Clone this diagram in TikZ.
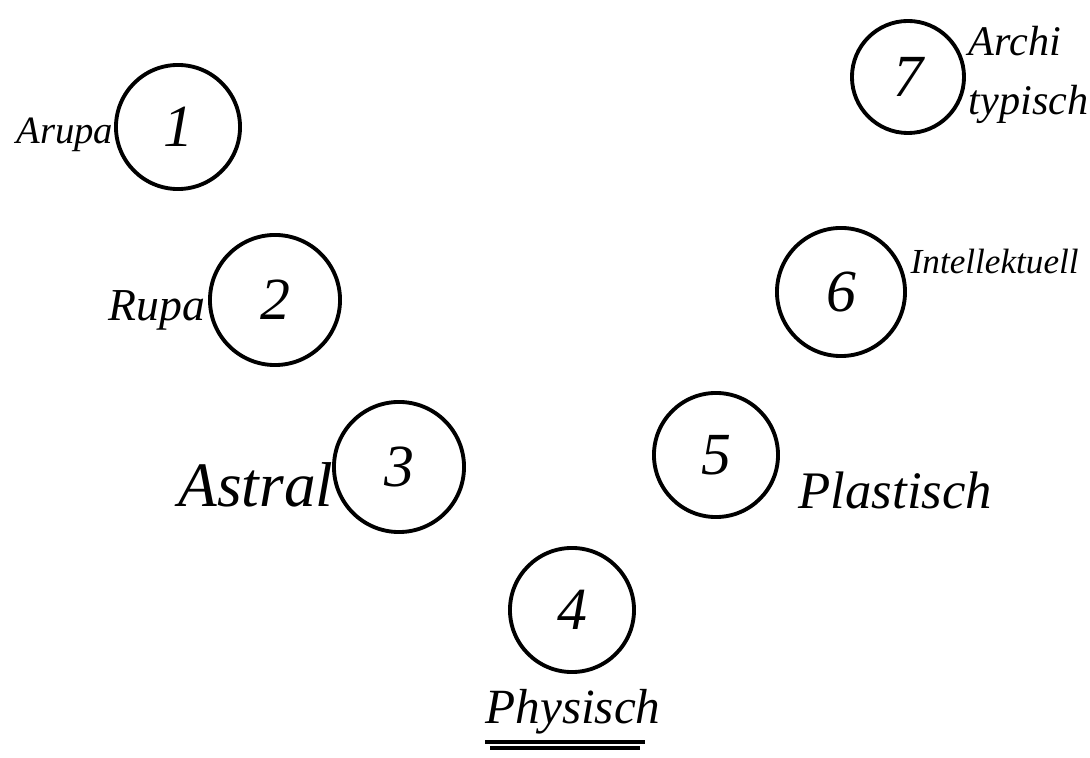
\documentclass[tikz,border=0pt]{standalone}
\usepackage{fontspec}
\setmainfont{Liberation Serif}
\begin{document}
\begin{tikzpicture}[x=0.01cm,y=-0.01cm,
  ring/.style={circle,draw=black,line width=1.1pt,inner sep=0pt},
  num/.style={font=\fontsize{17}{17}\selectfont\itshape},
  lab/.style={font=\fontsize{16}{18}\selectfont\itshape,inner sep=0pt},
  smalllab/.style={font=\fontsize{11}{12}\selectfont\itshape,inner sep=0pt}]
\useasboundingbox (0,0) rectangle (1090,758);
\node[ring,minimum size=1.24cm] (c1) at (178,127) {};
\node[ring,minimum size=1.30cm] (c2) at (275,300) {};
\node[ring,minimum size=1.30cm] (c3) at (399,467) {};
\node[ring,minimum size=1.24cm] (c4) at (572,610) {};
\node[ring,minimum size=1.24cm] (c5) at (716,455) {};
\node[ring,minimum size=1.28cm] (c6) at (841,292) {};
\node[ring,minimum size=1.12cm] (c7) at (908,77) {};
\node[num] (n1) at (c1) {1};
\node[num] (n2) at (c2) {2};
\node[num] (n3) at (c3) {3};
\node[num] (n4) at (c4) {4};
\node[num] (n5) at (c5) {5};
\node[num] (n6) at (c6) {6};
\node[num] (n7) at (c7) {7};
\node[smalllab,anchor=east] (l1) at (114,135) {Arupa};
\node[smalllab,anchor=east,font=\fontsize{13}{14}\selectfont\itshape] (l2) at (206,310) {Rupa};
\node[lab,anchor=east,font=\fontsize{18}{20}\selectfont\itshape] (l3) at (334,485) {Astral};
\node[lab,anchor=west,font=\fontsize{15}{17}\selectfont\itshape] (l5) at (798,490) {Plastisch};
\node[lab,anchor=west,font=\fontsize{10}{12}\selectfont\itshape] (l6) at (910,262) {Intellektuell};
\node[lab,anchor=west,align=left,font=\fontsize{12}{17}\selectfont\itshape] (l7) at (968,75) {Archi\\typisch};
\node[lab,font=\fontsize{14}{16}\selectfont\itshape] (l4) at (573,712) {Physisch};
\coordinate (u1a) at (485,742);
\coordinate (u1b) at (645,742);
\coordinate (u2a) at (490,748);
\coordinate (u2b) at (640,748);
\draw[line width=1pt] (u1a) -- (u1b);
\draw[line width=1pt] (u2a) -- (u2b);
\end{tikzpicture}
\end{document}
